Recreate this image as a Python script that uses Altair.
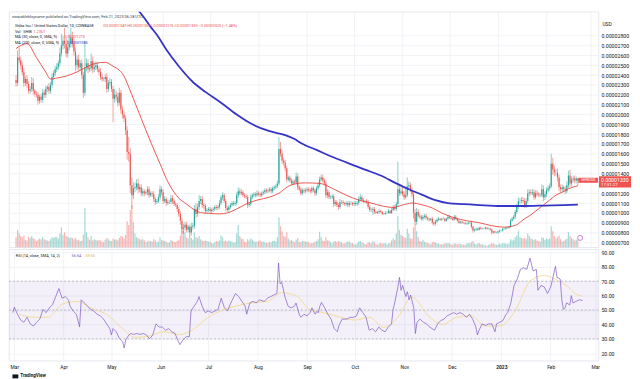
import altair as alt
import pandas as pd

# ---------------- daily candles SHIB/USD, prices in 1e-7 USD ----------------
first_open = 235
close_feb22 = [232, 258]
close_mar = [255, 250, 243, 232, 236, 231, 224, 226, 232, 224, 221, 220, 214, 218, 215, 222, 220, 226, 228, 224, 230, 238, 242, 246, 248, 252, 262, 270, 275, 272, 262]
close_apr = [268, 272, 278, 272, 264, 250, 256, 248, 252, 240, 222, 248, 252, 246, 247, 254, 246, 248, 250, 246, 243, 238, 236, 236, 238, 226, 232, 233, 226, 216]
close_may = [220, 218, 212, 222, 205, 200, 196, 184, 162, 160, 128, 118, 125, 126, 130, 124, 126, 120, 122, 120, 121, 124, 118, 120, 119, 114, 111, 112, 116, 124, 121]
close_jun = [112, 114, 110, 111, 111, 115, 112, 109, 108, 104, 99, 92, 84, 85, 88, 83, 86, 80, 86, 87, 104, 99, 106, 112, 114, 108, 107, 102, 103, 104]
close_jul = [102, 103, 104, 106, 105, 106, 110, 116, 118, 112, 105, 103, 106, 108, 110, 109, 110, 118, 122, 120, 121, 118, 117, 116, 108, 109, 116, 118, 119, 118, 120]
close_aug = [119, 118, 120, 121, 123, 122, 123, 124, 122, 125, 126, 127, 130, 165, 160, 153, 151, 145, 134, 136, 133, 130, 132, 131, 137, 126, 124, 120, 123, 122, 123]
close_sep = [124, 123, 122, 125, 123, 120, 125, 128, 134, 136, 133, 130, 118, 121, 116, 116, 117, 109, 111, 108, 106, 111, 111, 110, 109, 110, 108, 110, 110, 109]
close_oct = [110, 109, 110, 114, 116, 113, 112, 112, 111, 106, 103, 103, 104, 101, 100, 101, 102, 101, 99, 99, 100, 100, 102, 100, 103, 106, 104, 109, 124, 120, 122]
close_nov = [119, 116, 118, 127, 128, 123, 119, 100, 91, 101, 97, 96, 94, 96, 97, 95, 94, 93, 94, 90, 89, 91, 93, 94, 93, 94, 94, 92, 94, 96]
close_dec = [95, 94, 93, 96, 94, 92, 90, 91, 90, 90, 89, 89, 90, 90, 86, 82, 83, 84, 83, 85, 84, 84, 84, 85, 84, 84, 83, 80, 81, 80, 80]
close_jan = [81, 82, 82, 84, 84, 85, 85, 86, 92, 94, 96, 101, 106, 112, 112, 113, 112, 108, 112, 120, 121, 120, 121, 116, 120, 119, 118, 118, 124, 116, 119]
close_feb = [123, 125, 127, 150, 144, 141, 141, 136, 126, 124, 126, 124, 122, 128, 138, 130, 134, 135, 133, 134.9, 133.0]

wu_feb22 = [5, 7]
wu_mar = [10, 4, 3, 4, 3, 4, 3, 3, 6, 5, 2, 3, 3, 2, 3, 4, 3, 3, 2, 4, 3, 4, 3, 3, 4, 3, 6, 12, 5, 13, 6]
wu_apr = [8, 9, 10, 6, 5, 4, 4, 5, 3, 4, 3, 27, 5, 4, 3, 8, 5, 4, 4, 3, 3, 4, 3, 2, 3, 4, 3, 4, 3, 3]
wu_may = [6, 4, 4, 5, 3, 4, 3, 3, 4, 15, 6, 8, 6, 5, 4, 5, 3, 3, 3, 2, 2, 3, 3, 2, 2, 3, 2, 2, 3, 4, 3]
wu_jun = [3, 3, 2, 2, 2, 3, 3, 2, 2, 2, 2, 3, 3, 4, 3, 3, 2, 2, 4, 3, 4, 6, 3, 6, 3, 3, 2, 2, 2, 2]
wu_jul = [2, 2, 2, 2, 2, 2, 3, 2, 3, 2, 2, 2, 2, 2, 2, 2, 2, 3, 4, 3, 3, 2, 2, 2, 2, 2, 3, 2, 2, 2, 3]
wu_aug = [2, 2, 2, 2, 2, 2, 2, 2, 2, 2, 2, 2, 3, 12, 7, 4, 3, 3, 3, 2, 2, 2, 2, 2, 4, 3, 2, 2, 2, 2, 2]
wu_sep = [2, 2, 2, 2, 2, 2, 2, 3, 3, 3, 3, 2, 3, 3, 2, 2, 2, 2, 2, 2, 2, 3, 2, 2, 1, 2, 2, 2, 2, 1]
wu_oct = [2, 2, 2, 3, 3, 2, 2, 1, 2, 2, 2, 2, 2, 2, 1, 1, 2, 1, 1, 1, 2, 1, 2, 1, 2, 2, 2, 2, 28, 5, 4]
wu_nov = [4, 3, 8, 9, 4, 3, 3, 3, 4, 4, 3, 2, 2, 2, 2, 2, 1, 1, 1, 2, 1, 2, 2, 2, 1, 1, 2, 1, 1, 2]
wu_dec = [2, 1, 1, 2, 2, 1, 1, 1, 1, 1, 1, 1, 1, 1, 2, 1, 1, 1, 1, 1, 1, 1, 1, 1, 1, 1, 1, 1, 1, 1, 1]
wu_jan = [1, 1, 1, 1, 1, 1, 1, 1, 2, 2, 2, 2, 3, 4, 3, 3, 3, 3, 3, 4, 3, 3, 3, 3, 3, 3, 2, 2, 5, 4, 3]
wu_feb = [3, 3, 3, 10, 6, 4, 3, 4, 3, 3, 3, 2, 3, 4, 5, 6, 3, 3, 3, 2, 0.3]

wd_feb22 = [4, 3]
wd_mar = [3, 4, 3, 4, 3, 4, 3, 3, 3, 4, 3, 3, 4, 3, 3, 3, 3, 3, 3, 3, 3, 3, 3, 3, 3, 3, 3, 3, 4, 5, 4]
wd_apr = [4, 3, 4, 4, 4, 6, 4, 4, 3, 4, 5, 3, 4, 4, 3, 3, 4, 3, 3, 3, 3, 3, 3, 2, 3, 4, 3, 3, 3, 24]
wd_may = [4, 4, 4, 3, 4, 4, 4, 5, 8, 8, 8, 14, 4, 4, 3, 4, 3, 3, 3, 3, 2, 3, 3, 2, 3, 3, 3, 2, 2, 3, 3]
wd_jun = [3, 2, 3, 2, 2, 2, 3, 2, 2, 3, 3, 4, 5, 5, 3, 3, 3, 4, 3, 3, 3, 4, 3, 3, 3, 3, 3, 3, 2, 2]
wd_jul = [2, 2, 2, 2, 2, 2, 2, 2, 3, 2, 3, 2, 3, 2, 2, 2, 2, 2, 3, 2, 2, 2, 2, 2, 3, 2, 2, 2, 2, 2, 2]
wd_aug = [2, 2, 2, 2, 2, 2, 2, 2, 2, 2, 2, 2, 2, 2, 3, 3, 3, 3, 3, 2, 2, 2, 2, 2, 2, 3, 2, 2, 2, 2, 2]
wd_sep = [2, 2, 2, 2, 2, 3, 2, 2, 2, 2, 2, 2, 3, 3, 2, 2, 2, 3, 2, 2, 3, 2, 2, 2, 2, 2, 2, 2, 2, 2]
wd_oct = [2, 2, 2, 2, 2, 2, 2, 2, 2, 2, 2, 2, 5, 2, 1, 1, 2, 1, 1, 1, 1, 1, 1, 1, 1, 1, 2, 2, 2, 3, 2]
wd_nov = [2, 3, 2, 2, 3, 2, 3, 6, 3, 3, 2, 2, 2, 2, 2, 2, 2, 2, 1, 2, 2, 2, 1, 1, 1, 1, 1, 1, 1, 1]
wd_dec = [1, 1, 1, 1, 1, 1, 1, 1, 1, 1, 1, 1, 1, 1, 2, 2, 1, 1, 1, 1, 1, 1, 1, 1, 1, 1, 1, 2, 1, 1, 1]
wd_jan = [1, 1, 1, 1, 1, 1, 1, 1, 1, 1, 1, 2, 2, 2, 3, 2, 2, 3, 3, 2, 3, 2, 2, 3, 2, 2, 2, 2, 2, 4, 3]
wd_feb = [3, 2, 3, 2, 5, 4, 3, 4, 4, 3, 3, 3, 3, 2, 3, 4, 3, 3, 3, 3, 5.4]

# volume, trillions of SHIB
vol_feb22 = [1.6, 2.8]
vol_mar = [2.2, 1.8, 1.6, 1.9, 1.2, 1.1, 1.7, 1.5, 1.8, 1.5, 1.3, 1.0, 1.2, 1.4, 1.3, 1.6, 1.3, 1.2, 1.1, 1.0, 1.3, 1.6, 1.5, 1.7, 1.6, 1.4, 2.2, 3.2, 2.0, 2.4, 1.8]
vol_apr = [1.7, 1.5, 1.6, 1.5, 1.3, 1.5, 1.2, 1.2, 1.0, 1.1, 2.0, 6.3, 2.4, 1.6, 1.2, 1.8, 1.1, 1.3, 1.2, 1.1, 1.2, 1.1, 0.9, 0.8, 1.2, 1.5, 1.3, 1.1, 1.0, 1.4]
vol_may = [1.2, 1.3, 1.1, 1.5, 1.8, 1.7, 1.4, 2.0, 4.2, 3.6, 6.0, 6.8, 4.0, 2.2, 1.6, 1.5, 1.3, 1.2, 1.3, 1.1, 0.8, 0.9, 1.1, 1.0, 0.9, 1.3, 1.1, 0.8, 0.9, 1.6, 1.2]
vol_jun = [1.1, 1.0, 0.9, 0.7, 0.8, 1.2, 1.0, 0.9, 0.8, 1.0, 1.2, 1.9, 3.2, 2.6, 2.4, 1.6, 1.4, 1.8, 1.5, 1.2, 2.4, 1.6, 1.5, 1.8, 1.3, 1.1, 1.0, 1.1, 1.0, 0.9]
vol_jul = [0.9, 0.7, 0.6, 0.8, 1.0, 0.9, 1.1, 1.9, 1.6, 1.0, 1.1, 0.9, 1.1, 1.0, 0.9, 0.7, 0.8, 2.2, 3.6, 1.8, 1.4, 1.3, 0.9, 0.8, 1.3, 1.1, 1.4, 1.2, 1.0, 0.8, 0.9]
vol_aug = [1.0, 1.1, 0.9, 0.9, 0.8, 0.7, 0.7, 0.9, 0.8, 1.0, 1.1, 0.9, 1.6, 4.8, 3.4, 2.6, 1.8, 1.7, 2.4, 1.4, 1.1, 1.2, 1.0, 0.8, 1.2, 1.5, 0.9, 0.8, 1.0, 1.0, 0.9]
vol_sep = [0.9, 0.8, 0.6, 0.7, 0.7, 0.9, 1.0, 1.3, 2.5, 1.6, 1.1, 1.0, 1.6, 1.1, 1.0, 0.8, 0.6, 0.9, 1.0, 0.8, 1.0, 0.9, 0.8, 0.6, 0.6, 0.8, 0.9, 0.9, 0.7, 0.7]
vol_oct = [0.5, 0.5, 0.6, 0.9, 1.0, 0.8, 0.7, 0.5, 0.5, 0.8, 0.8, 0.6, 1.0, 0.8, 0.5, 0.4, 0.6, 0.7, 0.6, 0.6, 0.7, 0.5, 0.6, 0.7, 1.1, 1.4, 1.2, 2.2, 5.0, 2.8, 2.0]
vol_nov = [1.8, 1.6, 1.5, 3.0, 2.2, 1.4, 1.4, 3.2, 3.8, 2.6, 1.6, 1.0, 0.9, 1.2, 0.9, 0.8, 0.7, 0.6, 0.5, 0.8, 0.9, 0.8, 0.7, 0.6, 0.5, 0.5, 0.5, 0.7, 0.6, 0.7]
vol_dec = [0.6, 0.5, 0.4, 0.6, 0.6, 0.5, 0.6, 0.5, 0.5, 0.4, 0.4, 0.6, 0.7, 0.6, 0.8, 1.0, 0.6, 0.5, 0.6, 0.7, 0.5, 0.5, 0.4, 0.3, 0.3, 0.4, 0.5, 0.7, 0.6, 0.5, 0.4]
vol_jan = [0.4, 0.6, 0.5, 0.7, 0.6, 0.6, 0.5, 0.6, 1.3, 1.1, 1.2, 1.6, 1.9, 2.6, 1.6, 1.5, 1.4, 1.5, 1.3, 2.2, 1.8, 1.4, 1.3, 1.2, 1.3, 1.1, 1.0, 0.9, 1.6, 1.5, 1.2]
vol_feb = [1.4, 1.3, 1.4, 3.4, 2.6, 1.8, 1.4, 1.6, 1.9, 1.3, 0.9, 1.0, 1.2, 1.4, 2.4, 1.8, 1.5, 1.3, 1.1, 1.2, 1.236]

# moving averages (day offset from 2022-03-01, value in 1e-7 USD)
ma30_points = [(-2, 267), (5, 272), (11, 258), (17, 243), (20, 236), (24, 237), (30, 239), (38, 244), (44, 249), (49, 252), (55, 253), (60, 249), (64, 245), (67, 239), (70, 228), (74, 212), (78, 196), (82, 180), (87, 161), (90, 150), (94, 135), (99, 121), (102, 115), (107, 109), (112, 103), (117, 100), (122, 99.5), (128, 99), (133, 100), (139, 104), (145, 109), (152, 113), (160, 116), (166, 120), (172, 127), (178, 130), (183, 130.5), (192, 130), (200, 125), (209, 118), (217, 113), (225, 110), (232, 107), (239, 105.5), (245, 108), (251, 110), (258, 108), (264, 105), (270, 100), (278, 95), (286, 92), (294, 90), (302, 87), (310, 85.5), (315, 86.5), (319, 89), (322, 93), (327, 98), (331, 103), (335, 108), (339, 113), (343, 118), (347, 121), (351, 124.5), (357, 127.5)]
ma200_points = [(74, 310), (80, 298), (84, 289), (88, 281), (94, 266), (102, 249), (111, 233), (119, 223), (129, 212), (139, 200), (149, 190), (160, 183), (170, 179), (176, 175), (180, 171), (190, 164), (200, 157), (211, 150), (221, 144), (231, 138), (241, 130), (249, 124), (258, 118), (266, 113), (274, 110), (284, 109), (294, 108), (308, 107), (322, 107), (336, 107.5), (348, 108), (357, 108.5)]

# RSI (14) and its 14-day SMA (day offset from 2022-03-01, value)
rsi_points = [(-1, 48.2), (0, 52.0), (2, 47.0), (4, 43.0), (6, 41.5), (8, 45.0), (10, 40.4), (12, 38.9), (14, 41.5), (16, 43.7), (18, 50.4), (20, 48.2), (22, 51.5), (24, 53.7), (26, 59.3), (28, 64.9), (30, 58.2), (32, 59.3), (34, 57.1), (35, 52.7), (37, 49.3), (39, 47.1), (41, 38.2), (42, 57.1), (44, 54.9), (46, 52.7), (48, 50.4), (50, 49.3), (52, 47.1), (54, 46.0), (56, 43.7), (58, 40.4), (60, 37.1), (61, 32.7), (62, 37.1), (64, 34.9), (66, 30.4), (68, 28.2), (69, 23.7), (70, 29.3), (72, 32.7), (73, 33.7), (75, 33.1), (77, 33.7), (79, 33.1), (81, 33.7), (83, 32.7), (85, 30.0), (87, 32.7), (89, 40.4), (91, 38.2), (93, 38.2), (95, 36.0), (97, 37.1), (99, 34.9), (101, 33.7), (103, 28.2), (104, 26.0), (106, 29.3), (108, 31.5), (110, 31.5), (111, 49.3), (113, 52.7), (115, 56.0), (116, 59.3), (118, 52.7), (120, 48.2), (122, 49.3), (124, 48.2), (126, 49.3), (128, 50.4), (130, 58.2), (132, 51.5), (134, 49.3), (136, 54.9), (138, 59.3), (139, 61.5), (141, 59.3), (143, 56.0), (145, 52.7), (146, 47.1), (148, 54.9), (150, 56.0), (152, 54.9), (154, 57.1), (157, 56.0), (159, 58.2), (161, 59.3), (163, 60.4), (165, 61.5), (166, 82.7), (167, 68.2), (168, 69.3), (170, 59.3), (172, 52.7), (174, 51.5), (176, 52.7), (177, 54.9), (179, 47.1), (180, 45.0), (182, 47.0), (184, 46.0), (186, 48.5), (187, 51.5), (189, 47.1), (190, 49.0), (191, 48.2), (192, 52.7), (193, 55.3), (195, 51.5), (197, 47.1), (199, 43.7), (201, 37.1), (203, 34.9), (204, 39.3), (206, 43.7), (209, 43.7), (211, 44.9), (213, 44.9), (215, 46.0), (217, 51.5), (219, 48.2), (221, 44.9), (223, 36.0), (225, 37.1), (227, 34.9), (229, 38.2), (231, 36.0), (233, 34.9), (235, 38.2), (237, 40.4), (238, 50.4), (239, 54.9), (240, 60.4), (241, 66.0), (242, 72.7), (243, 63.7), (244, 67.1), (246, 59.3), (247, 62.7), (248, 57.1), (249, 60.4), (251, 51.5), (252, 33.7), (253, 41.5), (255, 43.7), (257, 41.5), (259, 40.4), (261, 38.2), (264, 36.0), (266, 40.4), (268, 42.7), (270, 43.7), (272, 46.0), (274, 47.1), (276, 48.2), (278, 47.1), (280, 48.2), (282, 47.1), (284, 44.9), (286, 47.1), (288, 43.7), (290, 38.2), (291, 32.7), (292, 36.0), (294, 40.4), (296, 39.3), (298, 40.4), (300, 40.4), (302, 34.9), (303, 40.4), (305, 41.5), (307, 42.7), (309, 47.1), (310, 48.2), (312, 54.9), (314, 67.1), (316, 71.5), (318, 78.2), (320, 79.3), (322, 78.2), (324, 86.0), (326, 77.1), (328, 78.2), (329, 63.7), (331, 67.1), (333, 66.0), (335, 61.5), (337, 66.0), (338, 70.4), (340, 80.4), (341, 72.7), (343, 71.5), (344, 57.1), (345, 50.4), (346, 51.5), (347, 55.0), (349, 53.5), (350, 60.0), (351, 54.9), (353, 56.0), (355, 57.1), (357, 56.64)]
rsi_ma_points = [(3, 47), (12, 45), (21, 45), (30, 54), (39, 56), (49, 51), (58, 47), (67, 38), (76, 31), (85, 32), (94, 35), (104, 33), (113, 37), (122, 45), (131, 50), (140, 53), (149, 55), (159, 56), (168, 62), (177, 60), (186, 50), (195, 48), (205, 45), (214, 43), (223, 45), (232, 38), (241, 45), (250, 59), (260, 46), (269, 40), (278, 45), (287, 46), (296, 39), (305, 39), (315, 50), (324, 70), (333, 74), (342, 70), (348, 66), (353, 61), (357, 59.65)]

# price-scale tick labels (1e-6 USD); 13 is hidden behind the last-price label
price_ticks = [7, 8, 9, 10, 11, 12, 14, 15, 16, 17, 18, 19, 20, 21, 22, 23, 24, 25, 26, 27, 28]
rsi_ticks = [20, 30, 40, 50, 60, 70, 80, 90]

# ---------------- build tables ----------------
closes = close_feb22 + close_mar + close_apr + close_may + close_jun + close_jul + close_aug + close_sep + close_oct + close_nov + close_dec + close_jan + close_feb
wick_up = wu_feb22 + wu_mar + wu_apr + wu_may + wu_jun + wu_jul + wu_aug + wu_sep + wu_oct + wu_nov + wu_dec + wu_jan + wu_feb
wick_dn = wd_feb22 + wd_mar + wd_apr + wd_may + wd_jun + wd_jul + wd_aug + wd_sep + wd_oct + wd_nov + wd_dec + wd_jan + wd_feb
vols = vol_feb22 + vol_mar + vol_apr + vol_may + vol_jun + vol_jul + vol_aug + vol_sep + vol_oct + vol_nov + vol_dec + vol_jan + vol_feb
n = min(len(closes), len(wick_up), len(wick_dn), len(vols))
dates = pd.date_range("2022-02-27", periods=n, freq="D")
opens = [first_open] + closes[:-1]
rows = []
for i in range(n):
    o, c = opens[i], closes[i]
    rows.append(dict(date=dates[i].strftime("%Y-%m-%d"), open=o * 1e-7, close=c * 1e-7,
                     high=(max(o, c) + wick_up[i]) * 1e-7, low=(min(o, c) - wick_dn[i]) * 1e-7,
                     vol=vols[i], dir="up" if c >= o else "down"))
candles = pd.DataFrame(rows)

base = pd.Timestamp("2022-03-01")
def series(points, scale=1.0):
    return pd.DataFrame({"date": [(base + pd.Timedelta(days=d)).strftime("%Y-%m-%d") for d, _ in points],
                         "val": [v * scale for _, v in points]})

ma30 = series(ma30_points, 1e-7)
ma200 = series(ma200_points, 1e-7)
rsi = series(rsi_points)
rsi_ma = series(rsi_ma_points)

# ---------------- styling ----------------
W, H1, H2 = 598, 239, 113
FONT = "Roboto"
GRID = "#eceef3"
UP, DOWN = "#26a69a", "#ef5350"
TXT = "#131722"

x_dom = [alt.DateTime(year=2022, month=2, date=25, hours=15, minutes=22, utc=True),
         alt.DateTime(year=2023, month=3, date=3, hours=1, minutes=12, utc=True)]
ticks = [alt.DateTime(year=2022 + (m - 1) // 12, month=(m - 1) % 12 + 1, date=1, utc=True) for m in range(3, 16)]
xscale = alt.Scale(type="utc", domain=x_dom)

x_top = alt.X("date:T", scale=xscale, title=None,
              axis=alt.Axis(values=ticks, labels=False, ticks=False, domain=False, grid=True,
                            gridColor=GRID, gridWidth=0.7, title=None))
x_bot = alt.X("date:T", scale=xscale, title=None,
              axis=alt.Axis(values=ticks, ticks=False, domain=False, grid=True, gridColor=GRID, gridWidth=0.7,
                            labelExpr="utcFormat(datum.value, '%m') == '01' ? utcFormat(datum.value, '%Y') : utcFormat(datum.value, '%b')",
                            labelFontWeight={"condition": {"test": "utcFormat(datum.value, '%m') == '01'", "value": "bold"}, "value": "normal"},
                            labelFontSize=5, labelFont=FONT, labelColor=TXT, labelPadding=4.3,
                            labelFlush=False, labelOverlap=False, title=None))

p_scale = alt.Scale(domain=[6.51e-6, 30.45e-6], nice=False, zero=False)
p_axis = alt.Axis(orient="right", values=[k * 1e-6 for k in price_ticks], labelExpr="format(datum.value, '.8f')",
                  ticks=False, domain=False, grid=True, gridColor=GRID, gridWidth=0.7,
                  labelFontSize=5.3, labelFont=FONT, labelColor=TXT, labelPadding=2.5, title=None)
col = alt.Color("dir:N", scale=alt.Scale(domain=["up", "down"], range=[UP, DOWN]), legend=None)

def txt(x, y, s, color=TXT, size=3.9, weight="normal", align="left"):
    return alt.Chart(pd.DataFrame({"t": [s]})).mark_text(
        align=align, baseline="middle", fontSize=size, font=FONT, color=color, fontWeight=weight
    ).encode(x=alt.value(x), y=alt.value(y), text="t:N")

def box(x1, x2, y1, y2, color):
    return alt.Chart(pd.DataFrame({"k": [0]})).mark_rect(color=color).encode(
        x=alt.value(x1), x2=alt.value(x2), y=alt.value(y1), y2=alt.value(y2))

# ---------------- price panel ----------------
vol_layer = alt.Chart(candles).mark_bar(size=1.25, opacity=0.42).encode(
    x=x_top, y=alt.Y("vol:Q", scale=alt.Scale(domain=[0, 38], nice=False), axis=None), color=col)

wick = alt.Chart(candles).mark_rule(strokeWidth=0.55).encode(
    x=x_top, y=alt.Y("low:Q", scale=p_scale, axis=p_axis), y2="high:Q", color=col)
body = alt.Chart(candles).mark_bar(size=1.15).encode(
    x=x_top, y=alt.Y("open:Q", scale=p_scale, axis=p_axis), y2="close:Q", color=col)
ma30_line = alt.Chart(ma30).mark_line(color="#e8453c", strokeWidth=0.9, interpolate="monotone", clip=True).encode(
    x=x_top, y=alt.Y("val:Q", scale=p_scale, axis=p_axis))
ma200_line = alt.Chart(ma200).mark_line(color="#3434c6", strokeWidth=1.8, interpolate="monotone", clip=True).encode(
    x=x_top, y=alt.Y("val:Q", scale=p_scale, axis=p_axis))
price_group = alt.layer(wick, body, ma30_line, ma200_line)

event = alt.Chart(pd.DataFrame({"k": [0]})).mark_point(shape="circle", size=26, filled=False, color="#ab47bc",
                                                      strokeWidth=0.9).encode(x=alt.value(579.4), y=alt.value(229.5))

top_texts = [
    txt(3, 5.6, "wearablebloyname published on TradingView.com, Feb 21, 2023 06:28 UTC", "#3b3f4a", 4.0),
    txt(6, 14.7, "Shiba Inu / United States Dollar, 1D, COINBASE"),
    txt(95.7, 14.7, "O0.00001349  H0.00001352  L0.00001276  C0.00001330  \u22120.00000020 (\u22121.48%)", DOWN),
    txt(6, 20.3, "Vol \u00b7 SHIB"),
    txt(24.7, 20.3, "1.236T", DOWN),
    txt(6, 25.8, "MA (30, close, 0, SMA, 9)"),
    txt(56.3, 25.8, "0.00001275", DOWN),
    txt(6, 31.4, "MA (200, close, 0, SMA, 9)"),
    txt(59.2, 31.4, "0.00001085", "#3434c6"),
    txt(602, 12.5, "USD", TXT, 5.0),
    box(598.5, 631, 167, 178.5, DOWN),
    txt(600.5, 170.5, "0.00001330", "white", 5.3),
    txt(600.5, 175.6, "17:31:27", "white", 4.4),
    box(577.5, 597.5, 168.5, 173.6, DOWN),
    txt(587.5, 171.1, "SHIBUSD", "white", 3.6, align="center"),
]

top = alt.layer(vol_layer, price_group, event, *top_texts).resolve_scale(y="independent").properties(width=W, height=H1)

# ---------------- RSI panel ----------------
r_scale = alt.Scale(domain=[14.9, 92.2], nice=False, zero=False)
r_axis = alt.Axis(orient="right", values=rsi_ticks, format=".2f", ticks=False, domain=False,
                  grid=True, gridColor=GRID, gridWidth=0.7, labelFontSize=5.3, labelFont=FONT,
                  labelColor=TXT, labelPadding=2.5, title=None)

band = alt.Chart(pd.DataFrame({"lo": [30], "hi": [70]})).mark_rect(color="#7e57c2", opacity=0.09).encode(
    x=alt.value(0), x2=alt.value(W), y=alt.Y("lo:Q", scale=r_scale, axis=r_axis), y2="hi:Q")
levels = alt.Chart(pd.DataFrame({"lv": [70, 50, 30]})).mark_rule(color="#9598a1", strokeWidth=0.6,
                                                                 strokeDash=[2, 2]).encode(
    x=alt.value(0), x2=alt.value(W), y=alt.Y("lv:Q", scale=r_scale, axis=r_axis))
rsi_ma_line = alt.Chart(rsi_ma).mark_line(color="#f3d98a", strokeWidth=1.0, opacity=0.85, interpolate="monotone").encode(
    x=x_bot, y=alt.Y("val:Q", scale=r_scale, axis=r_axis))
rsi_line = alt.Chart(rsi).mark_line(color="#7e57c2", strokeWidth=0.7).encode(
    x=x_bot, y=alt.Y("val:Q", scale=r_scale, axis=r_axis))

bottom_texts = [
    txt(6.9, 7.2, "RSI (14, close, SMA, 14, 2)"),
    txt(63.5, 7.2, "56.64", "#7e57c2"),
    txt(77.5, 7.2, "59.65", "#d8b24a"),
    box(3.5, 9.5, 127, 131, TXT),
    txt(11.5, 129, "TradingView", TXT, 4.6, "bold"),
]

bottom = alt.layer(band, levels, rsi_ma_line, rsi_line, *bottom_texts).properties(width=W, height=H2)

chart = alt.vconcat(top, bottom, spacing=0).properties(padding=0, background="white").configure_view(
    stroke="#dfe2ea", strokeWidth=0.8)

chart.save("out.html", embed_options={"renderer": "svg", "actions": False})
